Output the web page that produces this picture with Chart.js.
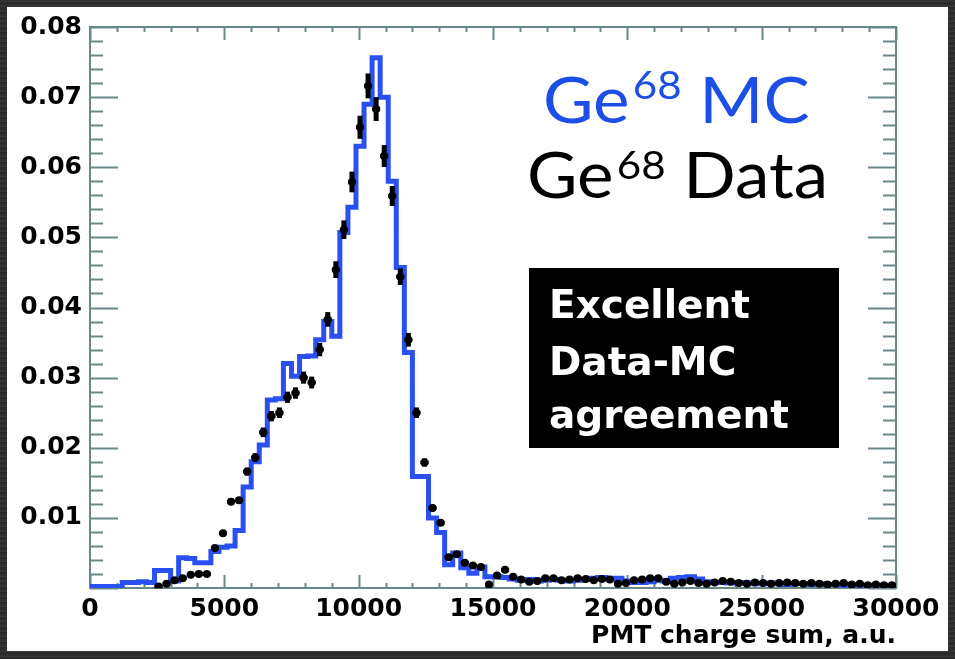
<!DOCTYPE html>
<html>
<head>
<meta charset="utf-8">
<script src="https://cdn.jsdelivr.net/npm/chart.js@4.4.1/dist/chart.umd.min.js"></script>
<style>
  html, body {
    margin: 0; padding: 0; width: 955px; height: 659px; overflow: hidden;
    background: #2f2f2f repeating-linear-gradient(0deg, #2a2a2a 0px, #2a2a2a 2px, #3a3a3a 2px, #3a3a3a 3px, #313131 3px, #313131 5px);
  }
  canvas { display: block; }
</style>
</head>
<body>
<canvas id="chart" width="955" height="659"></canvas>
<script>
// Histogram binning: 100 bins of 300 a.u. from 0 to 30000
const BIN_WIDTH = 300;

// Ge-68 Monte Carlo, normalised bin contents (blue step histogram)
const mcHeights = [
  0.0002, 0.0002, 0.0002, 0.0002, 0.0008, 0.0008, 0.0009, 0.0008, 0.0025, 0.0025,
  0.0010, 0.0043, 0.0042, 0.0036, 0.0036, 0.0052, 0.0058, 0.0060, 0.0082, 0.0144,
  0.0180, 0.0204, 0.0268, 0.0270, 0.0320, 0.0302, 0.0330, 0.0331, 0.0354, 0.0380,
  0.0359, 0.0507, 0.0543, 0.0630, 0.0690, 0.0756, 0.0700, 0.0580, 0.0457, 0.0336,
  0.0159, 0.0159, 0.0100, 0.0079, 0.0033, 0.0050, 0.0029, 0.0021, 0.0030, 0.0016,
  0.0016, 0.0015, 0.0013, 0.0011, 0.0012, 0.0010, 0.0011, 0.0012, 0.0011, 0.0010,
  0.0011, 0.0012, 0.0014, 0.0015, 0.0013, 0.0014, 0.0010, 0.0008, 0.0008, 0.0009,
  0.0011, 0.0010, 0.0014, 0.0015, 0.0016, 0.0013, 0.0009, 0.0008, 0.0008, 0.0007,
  0.0008, 0.0007, 0.0006, 0.0006, 0.0007, 0.0006, 0.0005, 0.0006, 0.0006, 0.0005,
  0.0006, 0.0005, 0.0005, 0.0004, 0.0005, 0.0004, 0.0004, 0.0003, 0.0004, 0.0003
];

// Ge-68 calibration data, normalised bin contents (black points, empty bins = null)
const dataHeights = [
  null, null, null, null, null, null, null, null, 0.0002, 0.0006,
  0.0011, 0.0014, 0.0019, 0.0020, 0.0020, 0.0057, 0.0078, 0.0123, 0.0125, 0.0166,
  0.0186, 0.0222, 0.0245, 0.0250, 0.0272, 0.0278, 0.0300, 0.0293, 0.0340, 0.0383,
  0.0454, 0.0511, 0.0579, 0.0657, 0.0716, 0.0683, 0.0616, 0.0559, 0.0444, 0.0354,
  0.0250, 0.0179, 0.0114, 0.0093, 0.0044, 0.0048, 0.0036, 0.0032, 0.0030, 0.0005,
  0.0018, 0.0026, 0.0016, 0.0012, 0.0009, 0.0010, 0.0014, 0.0014, 0.0011, 0.0012,
  0.0014, 0.0013, 0.0011, 0.0013, 0.0012, 0.0006, 0.0007, 0.0011, 0.0012, 0.0014,
  0.0014, 0.0009, 0.0006, 0.0008, 0.0010, 0.0007, 0.0006, 0.0008, 0.0010, 0.0009,
  0.0007, 0.0006, 0.0008, 0.0007, 0.0006, 0.0007, 0.0008, 0.0007, 0.0006, 0.0007,
  0.0006, 0.0005, 0.0006, 0.0007, 0.0005, 0.0006, 0.0004, 0.0005, 0.0004, 0.0004
];

const xTickValues = [0, 5000, 10000, 15000, 20000, 25000, 30000];
const xTickLabels = ['0', '5000', '10000', '15000', '20000', '25000', '30000'];
const yTickValues = [0.01, 0.02, 0.03, 0.04, 0.05, 0.06, 0.07, 0.08];
const yTickLabels = ['0.01', '0.02', '0.03', '0.04', '0.05', '0.06', '0.07', '0.08'];
const xAxisTitle = 'PMT charge sum, a.u.';

const MC_BLUE = '#2b50f2';
const TEXT_BLUE = '#1d4fe6';
const AXIS_COLOR = '#6a8888';
const HELV = 'DejaVu Sans';

// Step histogram vertices at bin low edges, closed at the upper range edge
const mcPoints = mcHeights.map((h, k) => ({ x: k * BIN_WIDTH, y: h }));
mcPoints.push({ x: mcHeights.length * BIN_WIDTH, y: mcHeights[mcHeights.length - 1] });

// Data markers at bin centres
const dataPoints = [];
dataHeights.forEach((h, k) => { if (h !== null) dataPoints.push({ x: (k + 0.5) * BIN_WIDTH, y: h }); });

// White slide panel behind the plot
const panelPlugin = {
  id: 'panel',
  beforeDraw(chart) {
    const c = chart.ctx;
    c.save();
    c.fillStyle = '#ffffff';
    c.fillRect(7, 7, 941, 644);
    c.restore();
  }
};

// ROOT-style frame with inward major/minor ticks on all four sides
const framePlugin = {
  id: 'frame',
  beforeDatasetsDraw(chart) {
    const { ctx: c, chartArea: a, scales: { x, y } } = chart;
    c.save();
    c.strokeStyle = AXIS_COLOR;
    c.lineWidth = 2;
    c.beginPath();
    for (let v = 0; v <= 30000; v += 1000) {
      const px = Math.round(x.getPixelForValue(v)) + 0.5;
      const len = v % 5000 === 0 ? 13 : 5;
      c.moveTo(px, a.bottom); c.lineTo(px, a.bottom - len);
      c.moveTo(px, a.top); c.lineTo(px, a.top + len);
    }
    for (let i = 0; i <= 40; i++) {
      const py = Math.round(y.getPixelForValue(i * 0.002)) + 0.5;
      const len = i % 5 === 0 ? 28 : 13;
      c.moveTo(a.left, py); c.lineTo(a.left + len, py);
      c.moveTo(a.right, py); c.lineTo(a.right - len, py);
    }
    c.stroke();
    c.strokeRect(a.left, a.top, a.right - a.left, a.bottom - a.top);
    c.restore();
  }
};

// Bin-width and statistical error bars on the data points
const errorBarPlugin = {
  id: 'errorBars',
  afterDatasetsDraw(chart) {
    const { ctx: c, scales: { x, y } } = chart;
    c.save();
    c.strokeStyle = '#000';
    c.lineCap = 'butt';
    dataPoints.forEach(p => {
      const px = x.getPixelForValue(p.x);
      const py = y.getPixelForValue(p.y);
      c.lineWidth = 3.5;
      c.beginPath();
      c.moveTo(x.getPixelForValue(p.x - BIN_WIDTH / 2), py);
      c.lineTo(x.getPixelForValue(p.x + BIN_WIDTH / 2), py);
      c.stroke();
      const err = 0.022 * p.y + 0.0002;
      c.lineWidth = 5;
      c.beginPath();
      c.moveTo(px, y.getPixelForValue(p.y - err));
      c.lineTo(px, y.getPixelForValue(p.y + err));
      c.stroke();
    });
    c.restore();
  }
};

// Legend-style captions and the comment box
function drawSup(c, parts, x, baseline, color, stretch) {
  c.save();
  c.translate(x, baseline);
  c.scale(stretch, 1);
  c.fillStyle = color;
  let cx = 0;
  parts.forEach(p => {
    c.font = p.font;
    c.fillText(p.text, cx, -(p.rise || 0));
    cx += c.measureText(p.text).width + (p.gap || 0);
  });
  c.restore();
}
const captionPlugin = {
  id: 'captions',
  afterDraw(chart) {
    const c = chart.ctx;
    c.save();
    c.textBaseline = 'alphabetic';
    c.textAlign = 'left';
    drawSup(c, [
      { text: 'Ge', font: '64px Lato', gap: 3 },
      { text: '68', font: '39px Lato', rise: 24, gap: 0 },
      { text: ' MC', font: '64px Lato' }
    ], 543, 123, TEXT_BLUE, 1.08);
    drawSup(c, [
      { text: 'Ge', font: '64px Lato', gap: 3 },
      { text: '68', font: '39px Lato', rise: 19, gap: 0 },
      { text: ' Data', font: '64px Lato' }
    ], 527, 198, '#000', 1.08);

    c.fillStyle = '#000';
    c.fillRect(529, 268, 310, 180);
    c.fillStyle = '#fff';
    c.font = 'bold 39px "' + HELV + '"';
    c.fillText('Excellent', 549, 318);
    c.fillText('Data-MC', 549, 375);
    c.fillText('agreement', 549, 428);
    c.restore();
  }
};

const tickFont = { family: HELV, weight: 'bold', size: 25 };

new Chart(document.getElementById('chart').getContext('2d'), {
  type: 'scatter',
  data: {
    datasets: [
      {
        label: 'Ge68 Data',
        data: dataPoints,
        showLine: false,
        pointRadius: 4,
        pointBackgroundColor: '#000',
        pointBorderWidth: 0,
        order: 1
      },
      {
        label: 'Ge68 MC',
        type: 'line',
        data: mcPoints,
        stepped: 'before',
        borderColor: MC_BLUE,
        borderWidth: 5,
        borderJoinStyle: 'miter',
        pointRadius: 0,
        fill: false,
        order: 2
      }
    ]
  },
  options: {
    responsive: false,
    animation: false,
    devicePixelRatio: 1,
    layout: { padding: { left: 0, right: 59, top: 27, bottom: 0 } },
    plugins: { legend: { display: false }, tooltip: { enabled: false } },
    scales: {
      x: {
        type: 'linear',
        min: 0, max: 30000,
        afterBuildTicks: s => { s.ticks = xTickValues.map(v => ({ value: v })); },
        afterFit: s => { s.height = 71; },
        grid: { display: false, drawTicks: false },
        border: { display: false },
        ticks: {
          autoSkip: false, maxRotation: 0, padding: 6, color: '#000', font: tickFont,
          callback: (v, i) => xTickLabels[i]
        },
        title: {
          display: true, text: xAxisTitle, align: 'end', color: '#000', font: tickFont,
          padding: { top: 0, bottom: 8 }
        }
      },
      y: {
        min: 0, max: 0.08,
        afterBuildTicks: s => { s.ticks = yTickValues.map(v => ({ value: v })); },
        afterFit: s => { s.width = 90; },
        grid: { display: false, drawTicks: false },
        border: { display: false },
        ticks: {
          autoSkip: false, padding: 8, color: '#000', font: tickFont,
          callback: (v, i) => yTickLabels[i]
        }
      }
    }
  },
  plugins: [panelPlugin, framePlugin, errorBarPlugin, captionPlugin]
});
</script>
</body>
</html>
